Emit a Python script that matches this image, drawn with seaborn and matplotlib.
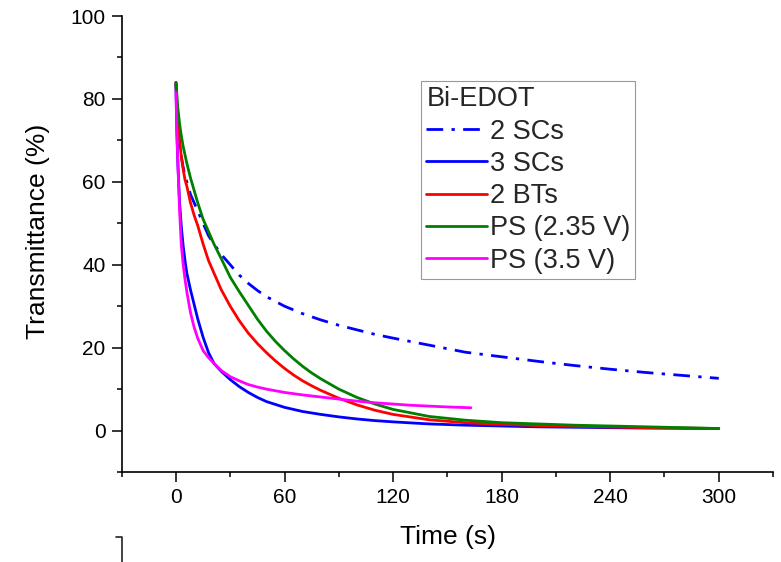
import numpy as np
import pandas as pd
import matplotlib
matplotlib.use("Agg")
import matplotlib.pyplot as plt
from matplotlib.lines import Line2D
import seaborn as sns

# ---- data ----
t_2sc = [0, 0.5, 1, 2, 3, 4, 5, 6, 8, 10, 12, 15, 18, 21, 25, 30, 35, 40, 45, 50, 60, 70, 80, 90, 100,
         110, 120, 140, 160, 180, 200, 220, 240, 260, 280, 300]
T_2sc = [84, 78, 74, 69, 66, 63.5, 61.5, 60, 57, 55, 53, 50, 47, 45, 42.5, 40, 37.5, 35.5, 33.8, 32.3, 30,
         28.2, 26.7, 25.4, 24.3, 23.2, 22.3, 20.6, 18.9, 17.8, 16.7, 15.7, 14.8, 14.0, 13.3, 12.6]

t_3sc = [0, 0.5, 1, 2, 3, 4, 5, 6, 8, 10, 12, 15, 18, 21, 25, 30, 35, 40, 45, 50, 60, 70, 80, 90, 100,
         110, 120, 140, 160, 180, 200, 220, 240, 260, 280, 300]
T_3sc = [83.5, 72, 65, 55, 49, 44.5, 41, 38, 34, 30.5, 27, 22.5, 18.8, 16.2, 14.3, 12.3, 10.6, 9.2, 8.0,
         7.0, 5.6, 4.6, 3.9, 3.3, 2.8, 2.4, 2.1, 1.6, 1.3, 1.1, 0.9, 0.8, 0.7, 0.6, 0.55, 0.5]

t_2bt = [0, 0.5, 1, 2, 3, 4, 5, 6, 8, 10, 12, 15, 18, 21, 25, 30, 35, 40, 45, 50, 55, 60, 65, 70, 75,
         80, 90, 100, 110, 120, 140, 160, 180, 200, 220, 240, 260, 280, 300]
T_2bt = [84, 79, 75, 70, 66, 63, 60.5, 59, 55, 52, 49.5, 45, 41, 38, 34, 30, 26.5, 23.5, 21, 18.8, 16.8,
         15, 13.4, 12, 10.8, 9.7, 7.8, 6.2, 4.9, 3.9, 2.6, 1.9, 1.5, 1.2, 1.0, 0.85, 0.7, 0.6, 0.5]

t_ps235 = [0, 1, 2, 3, 4, 5, 6, 8, 10, 12, 15, 18, 21, 25, 30, 35, 40, 45, 50, 55, 60, 65, 70, 75, 80,
           90, 100, 110, 120, 140, 160, 180, 200, 220, 240, 260, 280, 300]
T_ps235 = [84, 78, 74, 71, 68.5, 66.5, 64.5, 61, 58, 55, 51, 48, 45, 41.5, 37, 33.5, 30.2, 26.9, 24, 21.5,
           19.3, 17.3, 15.5, 13.9, 12.5, 10, 8, 6.4, 5.1, 3.4, 2.5, 1.9, 1.6, 1.3, 1.1, 0.9, 0.7, 0.5]

t_ps35 = [0, 0.5, 1, 2, 3, 4, 5, 6, 8, 10, 12, 15, 18, 21, 25, 30, 35, 40, 45, 50, 60, 70, 80, 90, 100,
          110, 120, 130, 140, 150, 163]
T_ps35 = [81.5, 72, 65, 53, 44.5, 40, 36.5, 33.5, 28.5, 25, 22.3, 19.3, 17.6, 16.2, 14.5, 13, 12, 11.1,
          10.5, 10, 9.2, 8.6, 8.1, 7.6, 7.1, 6.7, 6.4, 6.1, 5.9, 5.7, 5.5]

series_names = ["2 SCs", "3 SCs", "2 BTs", "PS (2.35 V)", "PS (3.5 V)"]
series_t = [t_2sc, t_3sc, t_2bt, t_ps235, t_ps35]
series_T = [T_2sc, T_3sc, T_2bt, T_ps235, T_ps35]
colors = ["#0000FF", "#0000FF", "#FF0000", "#008000", "#FF00FF"]

x_major = [0, 60, 120, 180, 240, 300]
y_major = [0, 20, 40, 60, 80, 100]

# ---- style ----
sns.set_theme(style="ticks")
plt.rcParams["font.family"] = ["Liberation Sans", "DejaVu Sans"]

fig = plt.figure(figsize=(7.81, 5.62), dpi=100)
ax = fig.add_axes([0.1558, 0.1601, 0.9898 - 0.1558, 0.9715 - 0.1601])

for name, tt, TT, c in zip(series_names, series_t, series_T, colors):
    df = pd.DataFrame({"t": tt, "T": TT})
    sns.lineplot(data=df, x="t", y="T", color=c, linewidth=2.0, label=name, ax=ax,
                 sort=False, estimator=None)

ax.lines[0].set_dashes([6, 3, 1.2, 3])

ax.set_xlim(-30, 330)
ax.set_ylim(-10, 100)
ax.set_xticks(x_major)
ax.set_xticks(np.arange(-30, 331, 60), minor=True)
ax.set_yticks(y_major)
ax.set_yticks(np.arange(-10, 91, 20), minor=True)

for s in ["top", "right"]:
    ax.spines[s].set_visible(False)
for s in ["left", "bottom"]:
    ax.spines[s].set_linewidth(1.2)
    ax.spines[s].set_color("black")

ax.tick_params(which="major", direction="out", length=7.2, width=1.1, labelsize=15,
               color="black", labelcolor="black", pad=4.5)
ax.tick_params(which="minor", direction="out", length=3.6, width=1.1, color="black")

ax.set_xlabel("Time (s)", fontsize=19, color="black")
ax.set_ylabel("Transmittance (%)", fontsize=19, color="black")
ax.xaxis.set_label_coords(0.501, -0.116)
ax.yaxis.set_label_coords(-0.110, 0.527)

handles, labels = ax.get_legend_handles_labels()
leg = ax.legend(handles, labels, title="Bi-EDOT", loc="upper left",
                bbox_to_anchor=(0.4596, 0.8575), borderaxespad=0,
                fontsize=19.5, title_fontsize=19.5, alignment="left",
                frameon=True, fancybox=False, edgecolor="#808080",
                handlelength=2.25, handletextpad=0.08, labelspacing=0.23,
                borderpad=0.2)
leg.get_frame().set_linewidth(0.8)

# fragment of a neighbouring panel's axis visible at bottom-left of the reference
fig.add_artist(Line2D([116 / 781, 122 / 781, 122 / 781], [1 - 537 / 562, 1 - 537 / 562, 0],
                      transform=fig.transFigure, color="#222222", linewidth=1.2))

fig.savefig("out.png", dpi=100)
